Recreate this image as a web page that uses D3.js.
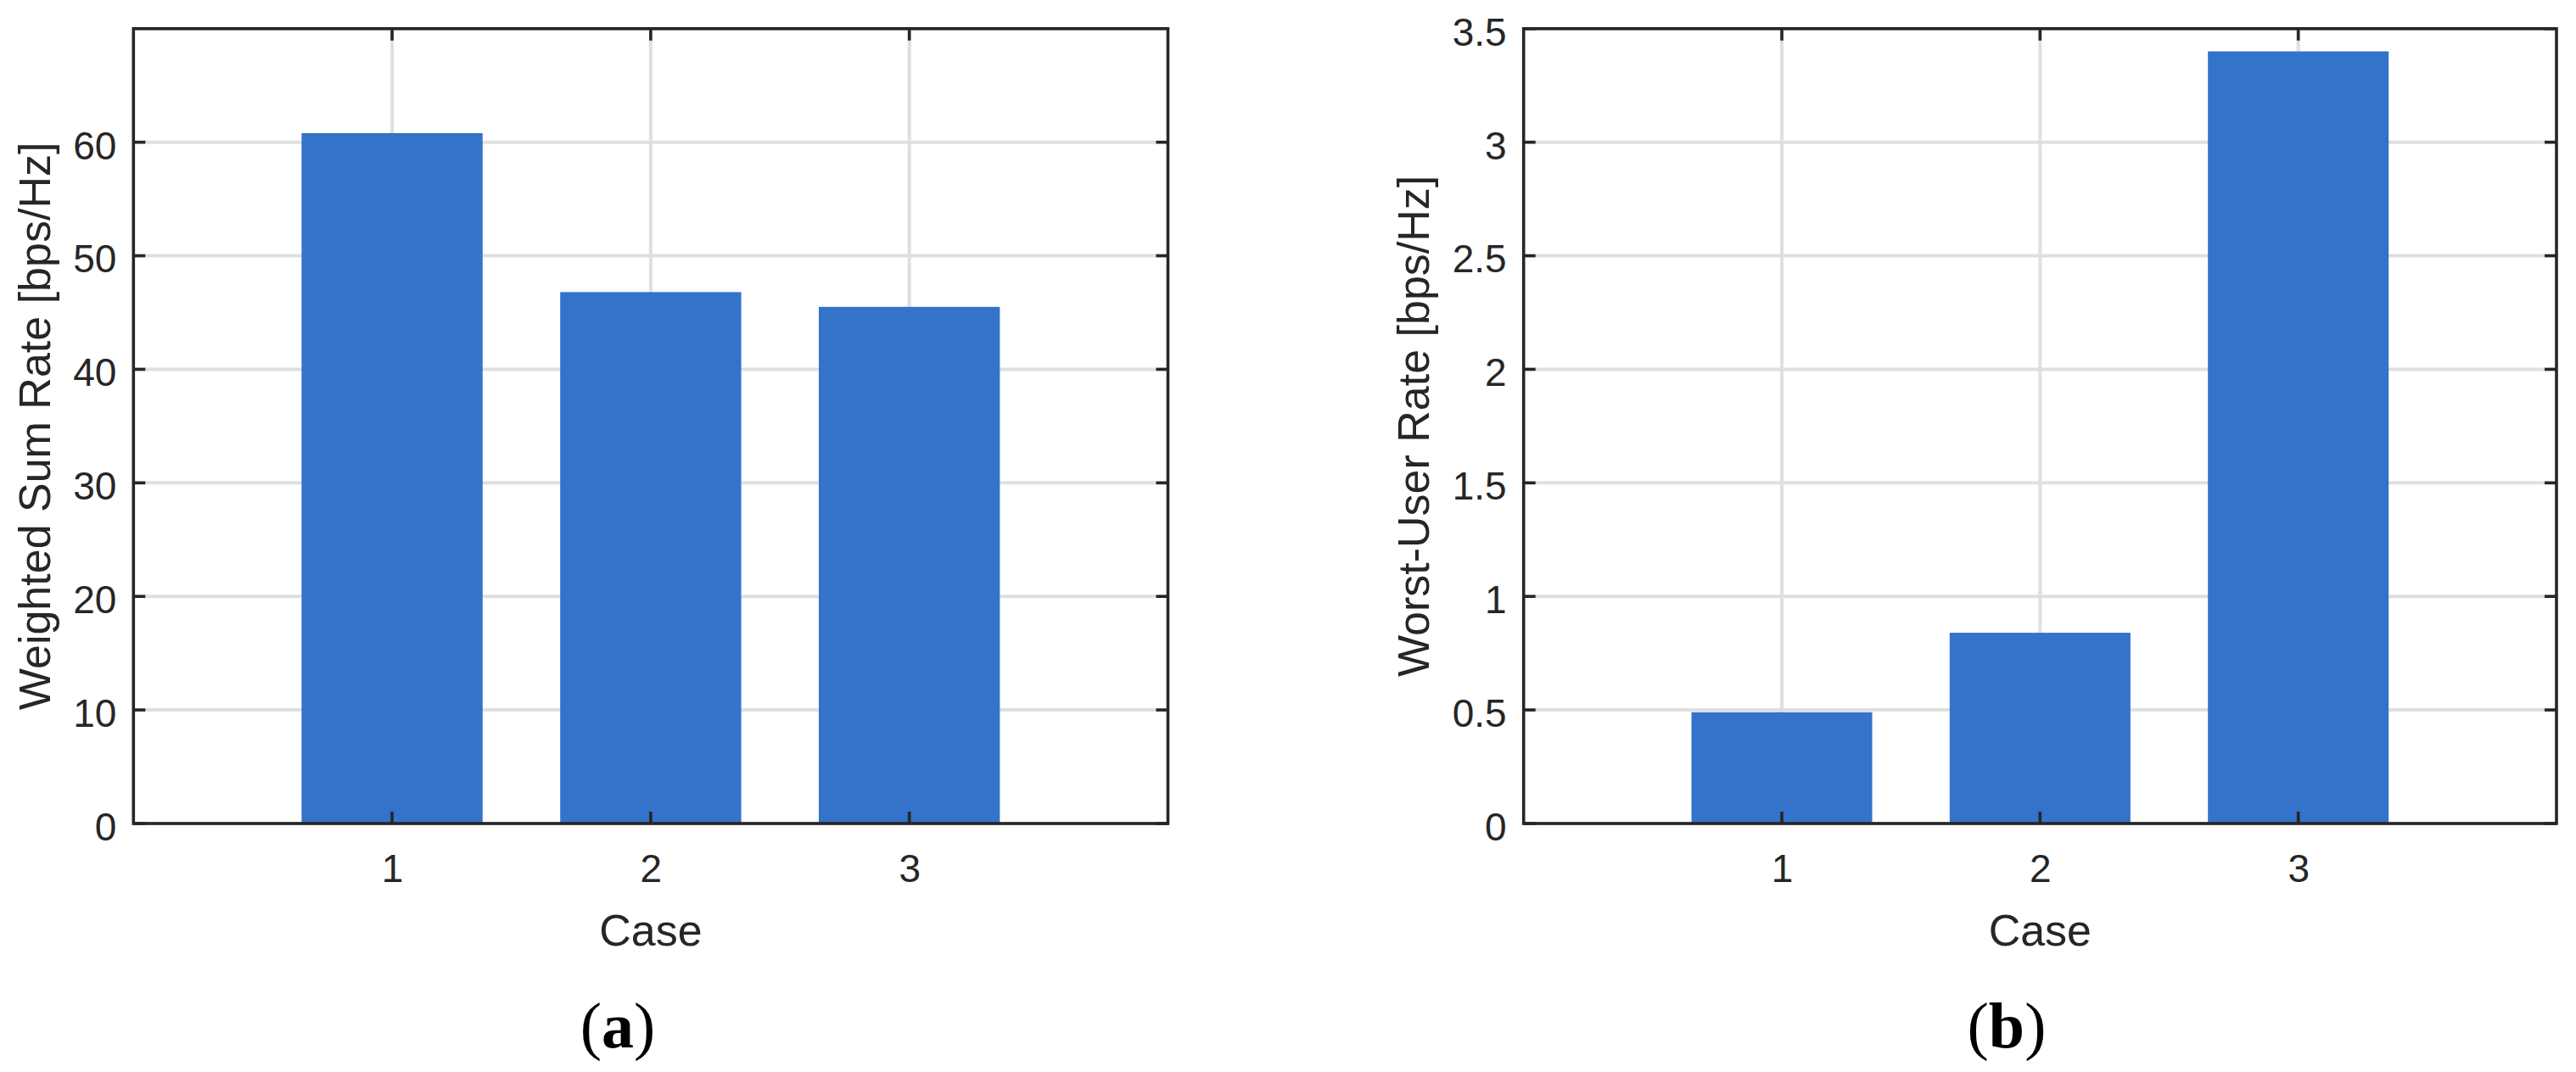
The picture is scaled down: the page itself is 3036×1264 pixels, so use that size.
<!DOCTYPE html>
<html>
<head>
<meta charset="utf-8">
<script src="https://cdn.jsdelivr.net/npm/d3@7"></script>
<style>
  html, body { margin: 0; padding: 0; background: #fff; }
  svg { display: block; }
  text { font-family: "Liberation Sans", Arial, Helvetica, sans-serif; fill: #262626; }
</style>
</head>
<body>
<svg id="chart" width="3036" height="1264"></svg>
<script>
// ---- data ----
const categories = [1, 2, 3];
const weightedSumRate = [60.8, 46.8, 45.5];
const worstUserRate = [0.49, 0.84, 3.40];
const leftYTicks = [0, 10, 20, 30, 40, 50, 60];
const leftYGrid = [0, 10, 20, 30, 40, 50, 60, 70];
const rightYTicks = [0, 0.5, 1, 1.5, 2, 2.5, 3, 3.5];
const xLabel = "Case";
const leftYLabel = "Weighted Sum Rate [bps/Hz]";
const rightYLabel = "Worst-User Rate [bps/Hz]";
const captions = ["a", "b"];

// ---- layout ----
const svg = d3.select("#chart");
const axisColor = "#262626";
const gridColor = "#dfdfdf";
const barColor = "#3373ca";
const plotTop = 33.8, plotBottom = 971;

const panels = [
  { x0: 157.3, x1: 1376.5, ymax: 70, values: weightedSumRate, yTicks: leftYTicks, yGrid: leftYGrid,
    ylabel: leftYLabel, ylabelX: 59, caption: captions[0], captionX: 728 },
  { x0: 1795.7, x1: 3013, ymax: 3.5, values: worstUserRate, yTicks: rightYTicks, yGrid: rightYTicks,
    ylabel: rightYLabel, ylabelX: 1684, caption: captions[1], captionX: 2365 }
];

panels.forEach(p => {
  const x = d3.scaleLinear().domain([0, 4]).range([p.x0, p.x1]);
  const y = d3.scaleLinear().domain([0, p.ymax]).range([plotBottom, plotTop]);
  const g = svg.append("g");
  const unit = x(1) - x(0);
  const barW = 0.7 * unit;

  // grid
  g.append("g").selectAll("line").data(p.yGrid).join("line")
    .attr("x1", p.x0).attr("x2", p.x1)
    .attr("y1", d => y(d)).attr("y2", d => y(d))
    .attr("stroke", gridColor).attr("stroke-width", 4);
  g.append("g").selectAll("line").data(categories).join("line")
    .attr("x1", d => x(d)).attr("x2", d => x(d))
    .attr("y1", plotTop).attr("y2", plotBottom)
    .attr("stroke", gridColor).attr("stroke-width", 4);

  // bars
  g.append("g").selectAll("rect").data(categories).join("rect")
    .attr("x", d => x(d) - barW / 2)
    .attr("width", barW)
    .attr("y", (d, i) => y(p.values[i]))
    .attr("height", (d, i) => y(0) - y(p.values[i]))
    .attr("fill", barColor);

  // box
  g.append("rect")
    .attr("x", p.x0).attr("y", plotTop)
    .attr("width", p.x1 - p.x0).attr("height", plotBottom - plotTop)
    .attr("fill", "none").attr("stroke", axisColor).attr("stroke-width", 3.6);

  // inward ticks
  const tl = 14;
  const tg = g.append("g").attr("stroke", axisColor).attr("stroke-width", 3.6);
  p.yTicks.forEach(v => {
    tg.append("line").attr("x1", p.x0).attr("x2", p.x0 + tl).attr("y1", y(v)).attr("y2", y(v));
    tg.append("line").attr("x1", p.x1).attr("x2", p.x1 - tl).attr("y1", y(v)).attr("y2", y(v));
  });
  categories.forEach(c => {
    tg.append("line").attr("x1", x(c)).attr("x2", x(c)).attr("y1", plotTop).attr("y2", plotTop + tl);
    tg.append("line").attr("x1", x(c)).attr("x2", x(c)).attr("y1", plotBottom).attr("y2", plotBottom - tl);
  });

  // y tick labels via d3 axis
  const ya = g.append("g").attr("transform", `translate(${p.x0},0)`)
    .call(d3.axisLeft(y).tickValues(p.yTicks).tickSize(0).tickPadding(20).tickFormat(d3.format("")));
  ya.select(".domain").remove();
  ya.selectAll("text").attr("font-size", 46).attr("dy", "0.42em")
    .attr("font-family", '"Liberation Sans", Arial, sans-serif').attr("fill", axisColor);

  // x tick labels via d3 axis
  const xa = g.append("g").attr("transform", `translate(0,${plotBottom})`)
    .call(d3.axisBottom(x).tickValues(categories).tickSize(0).tickPadding(36).tickFormat(d3.format("d")));
  xa.select(".domain").remove();
  xa.selectAll("text").attr("font-size", 46)
    .attr("font-family", '"Liberation Sans", Arial, sans-serif').attr("fill", axisColor);

  // axis labels
  g.append("text")
    .attr("x", (p.x0 + p.x1) / 2).attr("y", 1115)
    .attr("text-anchor", "middle").attr("font-size", 52)
    .text(xLabel);
  g.append("text")
    .attr("transform", `translate(${p.ylabelX},${(plotTop + plotBottom) / 2}) rotate(-90)`)
    .attr("text-anchor", "middle").attr("font-size", 52)
    .text(p.ylabel);

  // caption
  const cap = g.append("text")
    .attr("x", p.captionX).attr("y", 1235)
    .attr("text-anchor", "middle").attr("font-size", 76)
    .style("font-family", '"Liberation Serif", "Times New Roman", serif')
    .style("fill", "#000");
  cap.append("tspan").text("(");
  cap.append("tspan").attr("font-weight", "bold").text(p.caption);
  cap.append("tspan").text(")");
});
</script>
</body>
</html>
